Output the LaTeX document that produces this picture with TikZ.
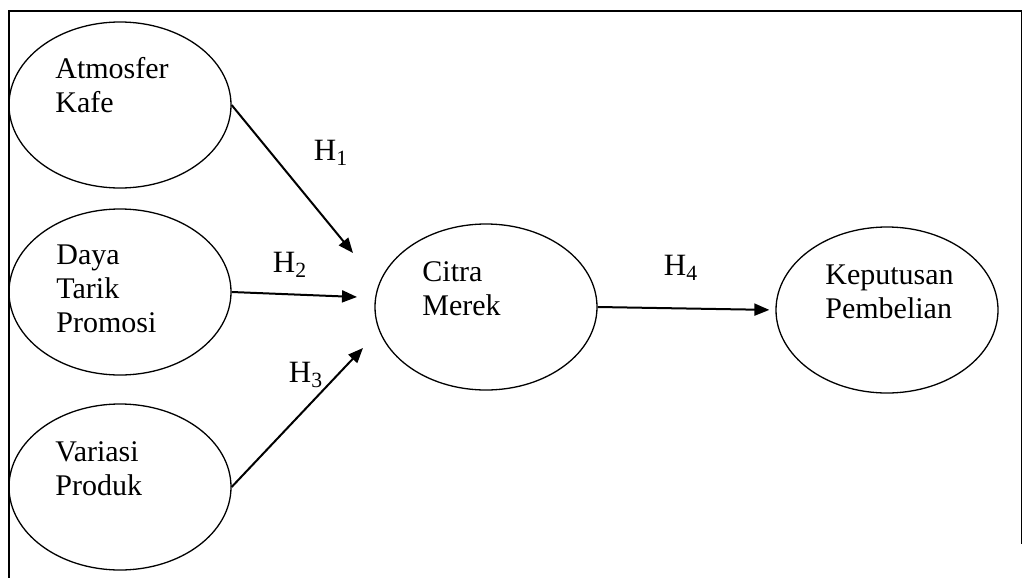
\documentclass[tikz,border=0pt]{standalone}
\usepackage{fontspec}
\setmainfont{Liberation Serif}
\usetikzlibrary{arrows.meta,shapes.geometric}
\begin{document}
\begin{tikzpicture}[x=0.5pt,y=-0.5pt,
  var/.style={draw,line width=0.65pt,ellipse,minimum width=111pt,minimum height=83pt,inner sep=0pt},
  % the base anchor of a multi-line node sits on its last line
  lbl/.style={anchor=base west,inner sep=0pt,align=left,
    font=\fontsize{15}{17}\selectfont},
  hyp/.style={inner sep=0pt,font=\fontsize{15.5}{17}\selectfont},
  link/.style={line width=1pt,-{Triangle[length=7.5pt,width=6pt]}},
  rim/.style={line width=0.75pt}]
\useasboundingbox (0,0) rectangle (1023,578);

% open frame round the model
\draw[rim] (9,578) -- (9,11) -- (1021.5,11) -- (1021.5,544);

% latent variables
\node[var] (atm) at (120,105) {};
\node[var] (dtp) at (120,292) {};
\node[var] (vp)  at (120,487) {};
\node[var] (cm)  at (486,307) {};
\node[var] (kp)  at (887,310) {};

% variable names
\node[lbl] (tatm) at (55,112)  {Atmosfer\\Kafe};
\node[lbl] (tdtp) at (56,332) {Daya\\Tarik\\Promosi};
\node[lbl] (tvp)  at (55,495) {Variasi\\Produk};
\node[lbl] (tcm)  at (422,315) {Citra\\Merek};
\node[lbl] (tkp)  at (825,318) {Keputusan\\Pembelian};

% arrow ends in front of Citra Merek
\coordinate (e1) at (353,253);
\coordinate (e2) at (357,297);
\coordinate (e3) at (363,348);

% hypothesised paths
\draw[link] (atm.east) -- (e1);
\draw[link] (dtp.east) -- (e2);
\draw[link] (vp.east)  -- (e3);
\draw[link,shorten >=3pt] (cm.east) -- (kp.west);

% hypothesis labels
\node[hyp] (h1) at (331,153) {H\textsubscript{1}};
\node[hyp] (h2) at (290,265) {H\textsubscript{2}};
\node[hyp] (h3) at (306,375) {H\textsubscript{3}};
\node[hyp] (h4) at (681,268) {H\textsubscript{4}};
\end{tikzpicture}
\end{document}
